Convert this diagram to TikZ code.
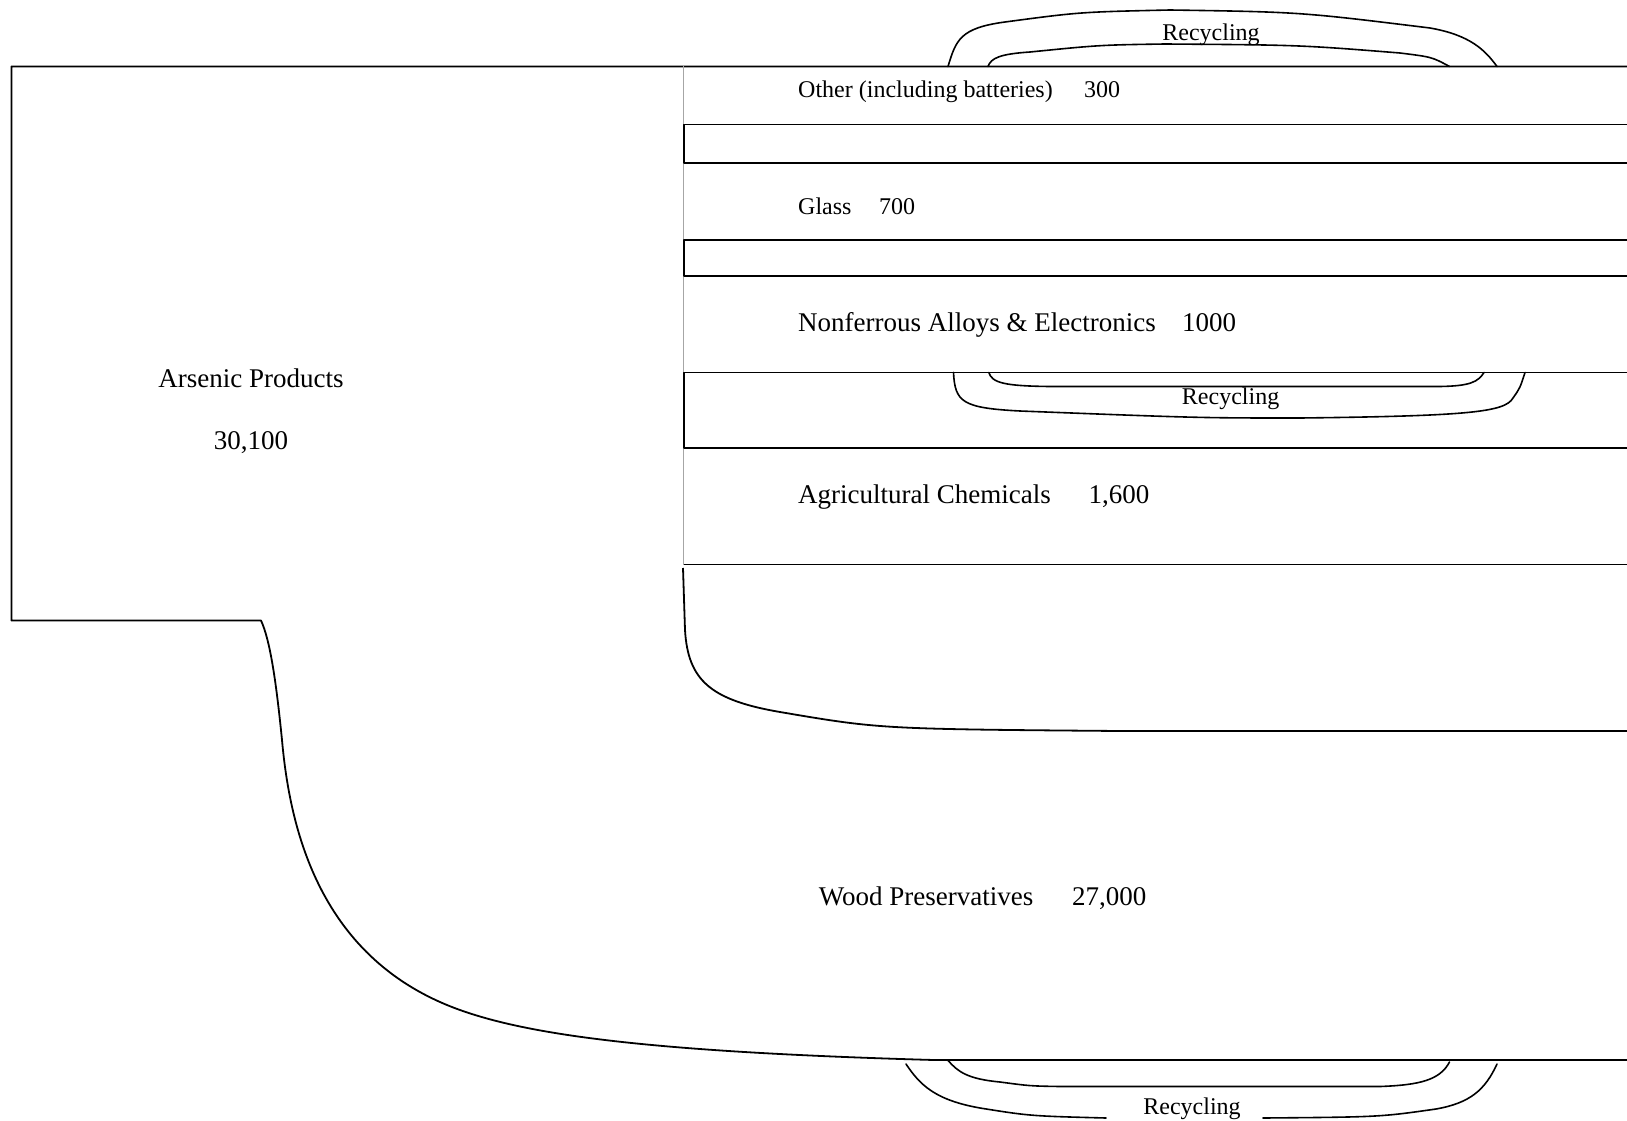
\documentclass[tikz,border=0pt]{standalone}
\usepackage{fontspec}
\setmainfont{Liberation Serif}
\begin{document}
\begin{tikzpicture}[x=1pt,y=-1pt,
  flow/.style={line width=1.8pt, line join=round},
  loopline/.style={line width=1.6pt, line cap=round},
  grayline/.style={line width=1.2pt, draw=black!35},
  smalltxt/.style={font=\fontsize{24}{28}\selectfont, inner sep=0pt},
  bigtxt/.style={font=\fontsize{27}{32}\selectfont, inner sep=0pt}]
\useasboundingbox[fill=white] (0,0) rectangle (1627,1121);

% outline of the arsenic source and the wood preservative band
\draw[flow] (1627,66.5) -- (11.4,66.5) -- (11.4,620.5) -- (261,620.5)
  .. controls (270,640) and (276,680) .. (282,740)
  .. controls (290,830) and (320,960) .. (460,1010)
  .. controls (530,1035) and (650,1052) .. (934,1060) -- (1627,1060);

% gray divider
\draw[grayline] (683.8,66.5) -- (683.8,564.5);

% gap boxes between bands
\draw[flow] (1627,124.5) -- (683.8,124.5) -- (683.8,162.9) -- (1627,162.9);
\draw[flow] (1627,239.7) -- (683.8,239.7) -- (683.8,276) -- (1627,276);
\draw[flow] (1627,372.5) -- (683.8,372.5) -- (683.8,448.2) -- (1627,448.2);
\draw[flow] (683.8,564.5) -- (1627,564.5);

% upper edge of wood band
\draw[flow] (683,568) -- (685,630) .. controls (688,680) and (710,700) .. (780,712)
  .. controls (880,729) .. (1120,731) -- (1627,731);

% top recycling loop
\draw[loopline] (948,66.5) .. controls (956,40) and (960,28) .. (1005,22)
  .. controls (1080,12) .. (1170,10) .. controls (1300,12) .. (1430,28)
  .. controls (1470,35) and (1485,50) .. (1497,66.5);
\draw[loopline] (988,66.5) .. controls (991,58) and (1000,54) .. (1030,52)
  .. controls (1100,45) .. (1165,44) .. controls (1300,45) .. (1400,53)
  .. controls (1432,57) .. (1449.5,66.5);

% middle recycling loop
\draw[loopline] (953.5,372.5) .. controls (955,402) and (962,408) .. (1020,411)
  .. controls (1200,418) .. (1300,418)
  .. controls (1470,416) and (1505,412) .. (1513,398)
  .. controls (1520,388) .. (1525,372.5);
\draw[loopline] (988.8,372.5) .. controls (992,383) and (1005,386) .. (1050,386.5)
  -- (1440,386.5) .. controls (1470,386) and (1478,382) .. (1484,372.5);

% bottom recycling loop
\draw[loopline] (906,1064) .. controls (920,1085) and (935,1100) .. (980,1108)
  .. controls (1030,1116) .. (1106,1118);
\draw[loopline] (1263,1118) .. controls (1380,1117) .. (1436,1109)
  .. controls (1470,1103) and (1485,1090) .. (1497,1064);
\draw[loopline] (948,1060.4) .. controls (958,1072) and (968,1079) .. (1000,1082)
  .. controls (1030,1086) .. (1060,1086.5) -- (1380,1086.5)
  .. controls (1420,1085) and (1440,1080) .. (1449.5,1062);

% labels
\node[bigtxt, anchor=base] (src) at (251,387) {Arsenic Products};
\node[bigtxt, anchor=base] (srcv) at (251,449.5) {30,100};

\node[smalltxt, anchor=base west] (oth) at (798,97.4) {Other (including batteries)};
\node[smalltxt, anchor=base west] (othv) at (1084,97.4) {300};
\node[smalltxt, anchor=base west] (gla) at (798,214) {Glass};
\node[smalltxt, anchor=base west] (glav) at (879,214) {700};
\node[bigtxt, anchor=base west] (non) at (798,331) {Nonferrous Alloys \& Electronics};
\node[bigtxt, anchor=base west] (nonv) at (1182,331) {1000};
\node[bigtxt, anchor=base west] (agr) at (798,503.5) {Agricultural Chemicals};
\node[bigtxt, anchor=base west] (agrv) at (1088.5,503.5) {1,600};
\node[bigtxt, anchor=base west] (woo) at (818.7,905) {Wood Preservatives};
\node[bigtxt, anchor=base west] (woov) at (1072,905) {27,000};

\node[smalltxt, anchor=base] (rec1) at (1211,40.5) {Recycling};
\node[smalltxt, anchor=base] (rec2) at (1230.6,404.5) {Recycling};
\node[smalltxt, anchor=base] (rec3) at (1192,1114.5) {Recycling};
\end{tikzpicture}
\end{document}
